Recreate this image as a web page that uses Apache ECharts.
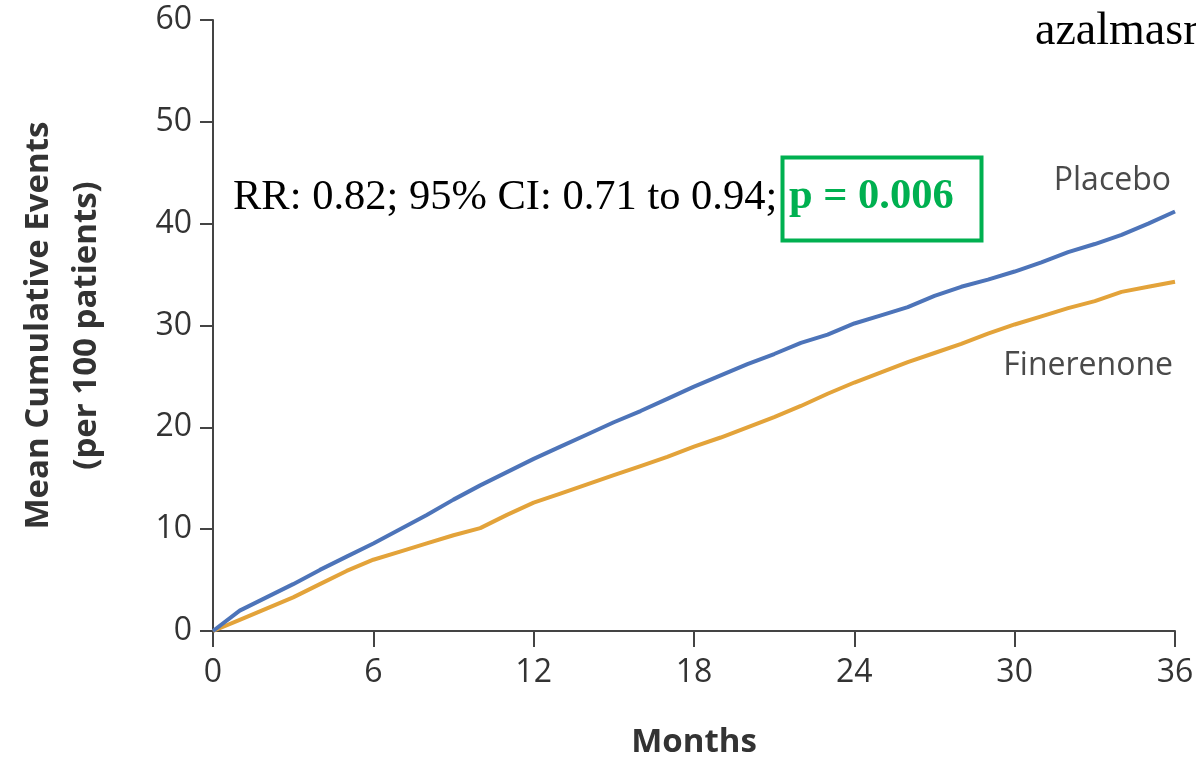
<!DOCTYPE html>
<html>
<head>
<meta charset="utf-8">
<script src="https://cdn.jsdelivr.net/npm/echarts@6/dist/echarts.min.js"></script>
<style>
  html, body { margin: 0; padding: 0; background: #ffffff; }
  #chart { width: 1196px; height: 758px; }
</style>
</head>
<body>
<div id="chart"></div>
<script>
// Months 0..36
const months = [0,1,2,3,4,5,6,7,8,9,10,11,12,13,14,15,16,17,18,19,20,21,22,23,24,25,26,27,28,29,30,31,32,33,34,35,36];
// Mean cumulative events per 100 patients
const placebo = [0,2.0,3.3,4.6,6.0,7.3,8.6,10.0,11.4,12.9,14.3,15.6,16.9,18.1,19.3,20.5,21.6,22.8,24.0,25.1,26.2,27.2,28.3,29.1,30.2,31.0,31.8,32.9,33.8,34.5,35.3,36.2,37.2,38.0,38.9,40.0,41.2];
const finerenone = [0,1.1,2.2,3.3,4.6,5.9,7.0,7.8,8.6,9.4,10.1,11.4,12.6,13.5,14.4,15.3,16.2,17.1,18.1,19.0,20.0,21.0,22.1,23.3,24.4,25.4,26.4,27.3,28.2,29.2,30.1,30.9,31.7,32.4,33.3,33.8,34.3];
const xTicks = [0,6,12,18,24,30,36];
const yTicks = [0,10,20,30,40,50,60];

const seriesNames = ['Placebo', 'Finerenone'];
const statText = 'RR: 0.82; 95% CI: 0.71 to 0.94;';
const pText = 'p = 0.006';
const watermark = 'azalmasr';

const chart = echarts.init(document.getElementById('chart'), null, { renderer: 'canvas' });

const axisColor = '#444444';
const labelColor = '#333333';
const sans = '"Open Sans", "DejaVu Sans", sans-serif';
const serif = '"Liberation Serif", "Times New Roman", serif';
const green = '#00b050';

chart.setOption({
  backgroundColor: '#ffffff',
  animation: false,
  grid: { left: 213, right: 21, top: 20, bottom: 127, containLabel: false, outerBoundsMode: 'none' },
  xAxis: {
    type: 'value',
    min: xTicks[0],
    max: xTicks[xTicks.length - 1],
    interval: 6,
    name: 'Months',
    nameLocation: 'middle',
    nameGap: 95,
    nameTextStyle: { fontFamily: sans, fontWeight: 'bold', fontSize: 33, color: labelColor },
    axisLine: { show: true, lineStyle: { color: axisColor, width: 2 } },
    axisTick: { show: true, inside: false, length: 16, lineStyle: { color: axisColor, width: 2 } },
    axisLabel: { show: true, margin: 26, fontFamily: sans, fontSize: 32, color: labelColor,
      customValues: xTicks },
    splitLine: { show: false }
  },
  yAxis: {
    type: 'value',
    min: yTicks[0],
    max: yTicks[yTicks.length - 1],
    interval: 10,
    name: 'Mean Cumulative Events\n(per 100 patients)',
    nameLocation: 'middle',
    nameGap: 102,
    nameRotate: 90,
    nameTextStyle: { fontFamily: sans, fontWeight: 'bold', fontSize: 33, color: labelColor, lineHeight: 48, align: 'center' },
    axisLine: { show: true, lineStyle: { color: axisColor, width: 2 } },
    axisTick: { show: true, inside: false, length: 13, lineStyle: { color: axisColor, width: 2 } },
    axisLabel: { show: true, margin: 21, fontFamily: sans, fontSize: 32, color: labelColor },
    splitLine: { show: false }
  },
  series: [
    {
      name: seriesNames[0],
      type: 'line',
      data: months.map((m, i) => [m, placebo[i]]),
      showSymbol: false,
      smooth: false,
      lineStyle: { color: '#4d74b9', width: 4 },
      itemStyle: { color: '#4d74b9' },
      z: 3
    },
    {
      name: seriesNames[1],
      type: 'line',
      data: months.map((m, i) => [m, finerenone[i]]),
      showSymbol: false,
      smooth: false,
      lineStyle: { color: '#e3a33a', width: 4 },
      itemStyle: { color: '#e3a33a' },
      z: 2
    }
  ],
  graphic: [
    { type: 'text', right: 25, top: 165, z: 10,
      style: { text: seriesNames[0], fontFamily: sans, fontSize: 32, fill: '#4a4a4a' } },
    { type: 'text', right: 23, top: 350, z: 10,
      style: { text: seriesNames[1], fontFamily: sans, fontSize: 32, fill: '#4a4a4a' } },
    { type: 'text', left: 233, top: 176, z: 10,
      style: { text: statText, fontFamily: serif, fontSize: 42.5, fill: '#000000' } },
    { type: 'rect', left: 780, top: 155, z: 10,
      shape: { x: 0, y: 0, width: 199, height: 83 },
      style: { fill: 'none', stroke: green, lineWidth: 4 } },
    { type: 'text', left: 789, top: 176, z: 11,
      style: { text: pText, fontFamily: serif, fontWeight: 'bold', fontSize: 42.5, fill: green } },
    { type: 'text', left: 1035, top: 9, z: 10,
      style: { text: watermark, fontFamily: serif, fontSize: 46, fill: '#000000' } }
  ]
});
</script>
</body>
</html>
